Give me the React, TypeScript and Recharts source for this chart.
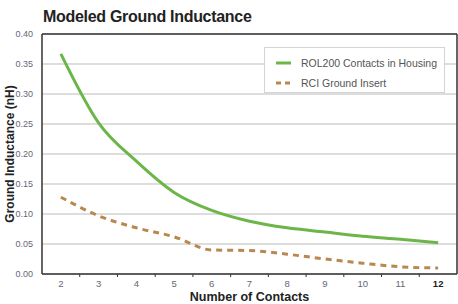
import React from 'react';
import { LineChart, Line, XAxis, YAxis, CartesianGrid, ReferenceLine } from 'recharts';

const contacts = [2, 3, 4, 5, 6, 7, 8, 9, 10, 11, 12];
const rol200 = [0.367, 0.252, 0.188, 0.136, 0.106, 0.088, 0.077, 0.07, 0.063, 0.058, 0.052];
const rciInsert = [0.128, 0.097, 0.077, 0.062, 0.04, 0.039, 0.033, 0.025, 0.018, 0.012, 0.01];
const yTicks = [0, 0.05, 0.1, 0.15, 0.2, 0.25, 0.3, 0.35, 0.4];

const data = contacts.map((c, i) => ({ contacts: c, rol: rol200[i], rci: rciInsert[i] }));

const GREEN = '#6cb649';
const TAN = '#b9874f';
const STEP = 415 / 11;
const FONT = "'Liberation Sans Narrow', 'Liberation Sans', sans-serif";

const XTick = (props: any) => {
  const { x, y, payload } = props;
  const last = payload.value === 12;
  const axisY = y - 8;
  return (
    <g>
      {!last && <line x1={x + STEP / 2} x2={x + STEP / 2} y1={axisY} y2={axisY + 3} stroke="#333" strokeWidth={1} />}
      <text x={x} y={axisY + 13} textAnchor="middle" fontSize={9.5} fill={last ? '#222' : '#667'} fontWeight={last ? 700 : 400}
        fontFamily={FONT}>
        {payload.value}
      </text>
    </g>
  );
};

const LegendBox = () => (
  <div style={{ position: 'absolute', left: 264, top: 47, width: 181, height: 46, background: '#fff', border: '1px solid #d4d4d4', boxSizing: 'border-box',
    fontFamily: FONT, fontSize: 10.5, color: '#555' }}>
    <div style={{ display: 'flex', alignItems: 'center', height: 16, marginTop: 7 }}>
      <svg width={36} height={6}><line x1={11} x2={26} y1={3} y2={3} stroke={GREEN} strokeWidth={3} /></svg>
      <span>ROL200 Contacts in Housing</span>
    </div>
    <div style={{ display: 'flex', alignItems: 'center', height: 16, marginTop: 4 }}>
      <svg width={36} height={6}><line x1={11} x2={26} y1={3} y2={3} stroke={TAN} strokeWidth={3} strokeDasharray="5 4" /></svg>
      <span>RCI Ground Insert</span>
    </div>
  </div>
);

export default function App() {
  return (
    <div style={{ position: 'fixed', left: 0, top: 0, width: 458, height: 304, background: '#fff' }}>
      <div style={{ position: 'absolute', left: 43, top: 8, fontFamily: FONT,
        fontWeight: 700, fontSize: 16, color: '#222', whiteSpace: 'nowrap', letterSpacing: -0.3 }}>
        Modeled Ground Inductance
      </div>
      <LineChart width={458} height={304} data={data} margin={{ top: 34, right: 1, bottom: 0, left: 0 }}
        style={{ fontFamily: FONT }}>
        <CartesianGrid vertical={false} stroke="#d2d2d2" strokeWidth={1.5} />
        <XAxis dataKey="contacts" type="number" domain={[1.5, 12.5]} ticks={contacts} height={30}
          axisLine={{ stroke: '#333', strokeWidth: 1.5 }} tickLine={false} tick={<XTick />}
          label={{ value: 'Number of Contacts', position: 'insideBottom', offset: 0, dy: -3, fontSize: 12.5, fontWeight: 700, fill: '#222' }} />
        <YAxis domain={[0, 0.4]} ticks={yTicks} width={42} axisLine={{ stroke: '#333', strokeWidth: 1.5 }} tickLine={false}
          tickFormatter={(v: number) => v.toFixed(2)} tick={{ fontSize: 9, fill: '#667' }} tickMargin={3}
          label={{ value: 'Ground Inductance (nH)', angle: -90, position: 'insideLeft', offset: 0, dx: 10, style: { textAnchor: 'middle' }, fontSize: 12, fontWeight: 700, fill: '#222' }} />
        <ReferenceLine y={0.4} stroke="#333" strokeWidth={1.5} />
        <ReferenceLine x={12.5} stroke="#333" strokeWidth={1.5} />
        <Line type="monotone" dataKey="rol" stroke={GREEN} strokeWidth={3} dot={false} isAnimationActive={false} />
        <Line type="monotone" dataKey="rci" stroke={TAN} strokeWidth={3} strokeDasharray="6 5" dot={false} isAnimationActive={false} />
      </LineChart>
      <LegendBox />
    </div>
  );
}
